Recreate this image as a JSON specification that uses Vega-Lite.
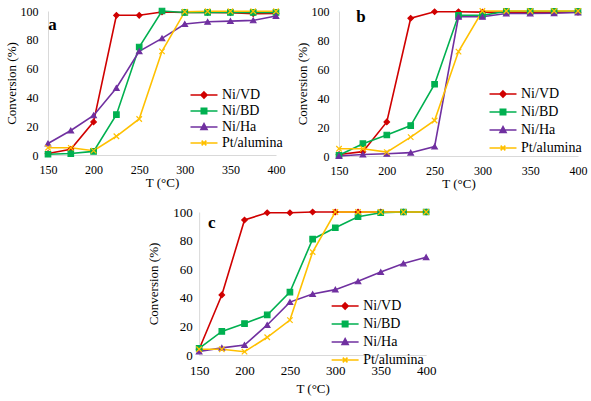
{
  "$schema": "https://vega.github.io/schema/vega-lite/v6.json",
  "padding": {"left": 5, "top": 5, "right": 2, "bottom": 1},
  "background": "white",
  "config": {
    "view": {"stroke": null},
    "font": "Liberation Serif",
    "axis": {"labelFont": "Liberation Serif", "titleFont": "Liberation Serif", "titleFontWeight": "normal", "labelColor": "#000", "titleColor": "#000"},
    "style": {
      "guide-label": {"font": "Liberation Serif", "fill": "#000"},
      "guide-title": {"font": "Liberation Serif", "fontWeight": "normal", "fill": "#000"}
    }
  },
  "datasets": {
    "conv": [
      {"panel": "a", "T": 150, "series": "Ni/VD", "value": 1},
      {"panel": "a", "T": 175, "series": "Ni/VD", "value": 4},
      {"panel": "a", "T": 200, "series": "Ni/VD", "value": 23},
      {"panel": "a", "T": 225, "series": "Ni/VD", "value": 97},
      {"panel": "a", "T": 250, "series": "Ni/VD", "value": 97},
      {"panel": "a", "T": 275, "series": "Ni/VD", "value": 99.3},
      {"panel": "a", "T": 300, "series": "Ni/VD", "value": 99},
      {"panel": "a", "T": 325, "series": "Ni/VD", "value": 99},
      {"panel": "a", "T": 350, "series": "Ni/VD", "value": 98.8},
      {"panel": "a", "T": 375, "series": "Ni/VD", "value": 98.2},
      {"panel": "a", "T": 400, "series": "Ni/VD", "value": 98.3},
      {"panel": "a", "T": 150, "series": "Ni/BD", "value": 0.5},
      {"panel": "a", "T": 175, "series": "Ni/BD", "value": 1},
      {"panel": "a", "T": 200, "series": "Ni/BD", "value": 2.5},
      {"panel": "a", "T": 225, "series": "Ni/BD", "value": 28},
      {"panel": "a", "T": 250, "series": "Ni/BD", "value": 75},
      {"panel": "a", "T": 275, "series": "Ni/BD", "value": 100},
      {"panel": "a", "T": 300, "series": "Ni/BD", "value": 99},
      {"panel": "a", "T": 325, "series": "Ni/BD", "value": 99},
      {"panel": "a", "T": 350, "series": "Ni/BD", "value": 99},
      {"panel": "a", "T": 375, "series": "Ni/BD", "value": 99},
      {"panel": "a", "T": 400, "series": "Ni/BD", "value": 99},
      {"panel": "a", "T": 150, "series": "Ni/Ha", "value": 8},
      {"panel": "a", "T": 175, "series": "Ni/Ha", "value": 17},
      {"panel": "a", "T": 200, "series": "Ni/Ha", "value": 27.5},
      {"panel": "a", "T": 225, "series": "Ni/Ha", "value": 46.5},
      {"panel": "a", "T": 250, "series": "Ni/Ha", "value": 72},
      {"panel": "a", "T": 275, "series": "Ni/Ha", "value": 81},
      {"panel": "a", "T": 300, "series": "Ni/Ha", "value": 91},
      {"panel": "a", "T": 325, "series": "Ni/Ha", "value": 92.5},
      {"panel": "a", "T": 350, "series": "Ni/Ha", "value": 93},
      {"panel": "a", "T": 375, "series": "Ni/Ha", "value": 93.5},
      {"panel": "a", "T": 400, "series": "Ni/Ha", "value": 96.5},
      {"panel": "a", "T": 150, "series": "Pt/alumina", "value": 5},
      {"panel": "a", "T": 175, "series": "Pt/alumina", "value": 5},
      {"panel": "a", "T": 200, "series": "Pt/alumina", "value": 3},
      {"panel": "a", "T": 225, "series": "Pt/alumina", "value": 13},
      {"panel": "a", "T": 250, "series": "Pt/alumina", "value": 25},
      {"panel": "a", "T": 275, "series": "Pt/alumina", "value": 72},
      {"panel": "a", "T": 300, "series": "Pt/alumina", "value": 99.5},
      {"panel": "a", "T": 325, "series": "Pt/alumina", "value": 99.8},
      {"panel": "a", "T": 350, "series": "Pt/alumina", "value": 99.8},
      {"panel": "a", "T": 375, "series": "Pt/alumina", "value": 99.8},
      {"panel": "a", "T": 400, "series": "Pt/alumina", "value": 99.8},

      {"panel": "b", "T": 150, "series": "Ni/VD", "value": 1},
      {"panel": "b", "T": 175, "series": "Ni/VD", "value": 3},
      {"panel": "b", "T": 200, "series": "Ni/VD", "value": 23.5},
      {"panel": "b", "T": 225, "series": "Ni/VD", "value": 95},
      {"panel": "b", "T": 250, "series": "Ni/VD", "value": 99.5},
      {"panel": "b", "T": 275, "series": "Ni/VD", "value": 99.5},
      {"panel": "b", "T": 300, "series": "Ni/VD", "value": 99.2},
      {"panel": "b", "T": 325, "series": "Ni/VD", "value": 99.2},
      {"panel": "b", "T": 350, "series": "Ni/VD", "value": 99.2},
      {"panel": "b", "T": 375, "series": "Ni/VD", "value": 99.2},
      {"panel": "b", "T": 400, "series": "Ni/VD", "value": 99.2},
      {"panel": "b", "T": 150, "series": "Ni/BD", "value": 0.5},
      {"panel": "b", "T": 175, "series": "Ni/BD", "value": 8.5},
      {"panel": "b", "T": 200, "series": "Ni/BD", "value": 14.5},
      {"panel": "b", "T": 225, "series": "Ni/BD", "value": 21},
      {"panel": "b", "T": 250, "series": "Ni/BD", "value": 49.5},
      {"panel": "b", "T": 275, "series": "Ni/BD", "value": 97},
      {"panel": "b", "T": 300, "series": "Ni/BD", "value": 97},
      {"panel": "b", "T": 325, "series": "Ni/BD", "value": 99.8},
      {"panel": "b", "T": 350, "series": "Ni/BD", "value": 99.8},
      {"panel": "b", "T": 375, "series": "Ni/BD", "value": 99.8},
      {"panel": "b", "T": 400, "series": "Ni/BD", "value": 99.8},
      {"panel": "b", "T": 150, "series": "Ni/Ha", "value": 0},
      {"panel": "b", "T": 175, "series": "Ni/Ha", "value": 1},
      {"panel": "b", "T": 200, "series": "Ni/Ha", "value": 1.5},
      {"panel": "b", "T": 225, "series": "Ni/Ha", "value": 2.3},
      {"panel": "b", "T": 250, "series": "Ni/Ha", "value": 6.5},
      {"panel": "b", "T": 275, "series": "Ni/Ha", "value": 96},
      {"panel": "b", "T": 300, "series": "Ni/Ha", "value": 96},
      {"panel": "b", "T": 325, "series": "Ni/Ha", "value": 98.3},
      {"panel": "b", "T": 350, "series": "Ni/Ha", "value": 98.3},
      {"panel": "b", "T": 375, "series": "Ni/Ha", "value": 98.5},
      {"panel": "b", "T": 400, "series": "Ni/Ha", "value": 99},
      {"panel": "b", "T": 150, "series": "Pt/alumina", "value": 5},
      {"panel": "b", "T": 175, "series": "Pt/alumina", "value": 5},
      {"panel": "b", "T": 200, "series": "Pt/alumina", "value": 2.7},
      {"panel": "b", "T": 225, "series": "Pt/alumina", "value": 13},
      {"panel": "b", "T": 250, "series": "Pt/alumina", "value": 24.5},
      {"panel": "b", "T": 275, "series": "Pt/alumina", "value": 72},
      {"panel": "b", "T": 300, "series": "Pt/alumina", "value": 100},
      {"panel": "b", "T": 325, "series": "Pt/alumina", "value": 100},
      {"panel": "b", "T": 350, "series": "Pt/alumina", "value": 100},
      {"panel": "b", "T": 375, "series": "Pt/alumina", "value": 100},
      {"panel": "b", "T": 400, "series": "Pt/alumina", "value": 100},

      {"panel": "c", "T": 150, "series": "Ni/VD", "value": 4},
      {"panel": "c", "T": 175, "series": "Ni/VD", "value": 42},
      {"panel": "c", "T": 200, "series": "Ni/VD", "value": 94.4},
      {"panel": "c", "T": 225, "series": "Ni/VD", "value": 99.5},
      {"panel": "c", "T": 250, "series": "Ni/VD", "value": 99.5},
      {"panel": "c", "T": 275, "series": "Ni/VD", "value": 100},
      {"panel": "c", "T": 300, "series": "Ni/VD", "value": 100},
      {"panel": "c", "T": 325, "series": "Ni/VD", "value": 100},
      {"panel": "c", "T": 350, "series": "Ni/VD", "value": 100},
      {"panel": "c", "T": 375, "series": "Ni/VD", "value": 100},
      {"panel": "c", "T": 400, "series": "Ni/VD", "value": 100},
      {"panel": "c", "T": 150, "series": "Ni/BD", "value": 4.7},
      {"panel": "c", "T": 175, "series": "Ni/BD", "value": 16.5},
      {"panel": "c", "T": 200, "series": "Ni/BD", "value": 22},
      {"panel": "c", "T": 225, "series": "Ni/BD", "value": 28},
      {"panel": "c", "T": 250, "series": "Ni/BD", "value": 44},
      {"panel": "c", "T": 275, "series": "Ni/BD", "value": 81},
      {"panel": "c", "T": 300, "series": "Ni/BD", "value": 89},
      {"panel": "c", "T": 325, "series": "Ni/BD", "value": 96.7},
      {"panel": "c", "T": 350, "series": "Ni/BD", "value": 99.5},
      {"panel": "c", "T": 375, "series": "Ni/BD", "value": 100},
      {"panel": "c", "T": 400, "series": "Ni/BD", "value": 100},
      {"panel": "c", "T": 150, "series": "Ni/Ha", "value": 2.5},
      {"panel": "c", "T": 175, "series": "Ni/Ha", "value": 5},
      {"panel": "c", "T": 200, "series": "Ni/Ha", "value": 7},
      {"panel": "c", "T": 225, "series": "Ni/Ha", "value": 21},
      {"panel": "c", "T": 250, "series": "Ni/Ha", "value": 37},
      {"panel": "c", "T": 275, "series": "Ni/Ha", "value": 42.6},
      {"panel": "c", "T": 300, "series": "Ni/Ha", "value": 45.7},
      {"panel": "c", "T": 325, "series": "Ni/Ha", "value": 51.5},
      {"panel": "c", "T": 350, "series": "Ni/Ha", "value": 58},
      {"panel": "c", "T": 375, "series": "Ni/Ha", "value": 64},
      {"panel": "c", "T": 400, "series": "Ni/Ha", "value": 68.4},
      {"panel": "c", "T": 150, "series": "Pt/alumina", "value": 4},
      {"panel": "c", "T": 175, "series": "Pt/alumina", "value": 4},
      {"panel": "c", "T": 200, "series": "Pt/alumina", "value": 2.3},
      {"panel": "c", "T": 225, "series": "Pt/alumina", "value": 12.4},
      {"panel": "c", "T": 250, "series": "Pt/alumina", "value": 24.4},
      {"panel": "c", "T": 275, "series": "Pt/alumina", "value": 72},
      {"panel": "c", "T": 300, "series": "Pt/alumina", "value": 100},
      {"panel": "c", "T": 325, "series": "Pt/alumina", "value": 100},
      {"panel": "c", "T": 350, "series": "Pt/alumina", "value": 100},
      {"panel": "c", "T": 375, "series": "Pt/alumina", "value": 100},
      {"panel": "c", "T": 400, "series": "Pt/alumina", "value": 100}
    ],
    "labels": [
      {"panel": "a", "T": 155, "value": 90, "label": "a"},
      {"panel": "b", "T": 173, "value": 96, "label": "b"},
      {"panel": "c", "T": 164, "value": 92, "label": "c"}
    ]
  },
  "resolve": {"scale": {"color": "independent", "shape": "independent", "stroke": "independent"}, "legend": {"color": "independent", "shape": "independent", "stroke": "independent"}},
  "spacing": 16,
  "center": true,
  "vconcat": [
    {
      "spacing": 11,
      "hconcat": [
        {
          "width": 228, "height": 144,
          "data": {"name": "conv"},
          "transform": [{"filter": "datum.panel === 'a'"}],
          "resolve": {"scale": {"color": "independent", "shape": "independent", "stroke": "independent"}, "legend": {"color": "independent", "shape": "independent", "stroke": "independent"}},
          "encoding": {
            "x": {"field": "T", "type": "quantitative", "scale": {"domain": [150, 400], "nice": false}, "axis": {"title": "T (°C)", "values": [150, 200, 250, 300, 350, 400], "labelFont": "Liberation Serif", "labelFontSize": 12, "titleFont": "Liberation Serif", "titleFontSize": 13, "titleFontWeight": "normal", "labelColor": "#000", "titleColor": "#000", "grid": false, "ticks": false, "domainColor": "#d9d9d9", "labelPadding": 9, "titlePadding": 1, "labelOverlap": false, "labelFlush": false}},
            "y": {"field": "value", "type": "quantitative", "scale": {"domain": [0, 100], "nice": false}, "axis": {"title": "Conversion (%)", "values": [0, 20, 40, 60, 80, 100], "labelFont": "Liberation Serif", "labelFontSize": 12, "titleFont": "Liberation Serif", "titleFontSize": 13, "titleFontWeight": "normal", "labelColor": "#000", "titleColor": "#000", "grid": false, "ticks": false, "domainColor": "#d9d9d9", "labelPadding": 10, "titlePadding": 2, "labelOverlap": false, "labelFlush": false}}
          },
          "layer": [
            {
              "mark": {"type": "line", "strokeWidth": 1.6},
              "encoding": {
                "color": {"field": "series", "type": "nominal", "legend": null, "scale": {"domain": ["Ni/VD", "Ni/BD", "Ni/Ha", "Pt/alumina"], "range": ["#d00000", "#00b050", "#7030a0", "#ffc000"]}}
              }
            },
            {
              "mark": {"type": "point", "filled": true, "size": 30, "opacity": 1, "strokeWidth": 1.2},
              "encoding": {
                "color": {"field": "series", "type": "nominal", "legend": null, "scale": {"domain": ["Ni/VD", "Ni/BD", "Ni/Ha", "Pt/alumina"], "range": ["#d00000", "#00b050", "#7030a0", "#ffc000"]}},
                "shape": {"field": "series", "type": "nominal", "legend": null, "scale": {"domain": ["Ni/VD", "Ni/BD", "Ni/Ha", "Pt/alumina"], "range": ["diamond", "square", "triangle-up", "M-1,-1L1,1M-1,1L1,-1"]}},
                "stroke": {"field": "series", "type": "nominal", "legend": null, "scale": {"domain": ["Ni/VD", "Ni/BD", "Ni/Ha", "Pt/alumina"], "range": ["#d00000", "#00b050", "#7030a0", "#ffc000"]}}
              }
            },
            {
              "transform": [{"filter": "datum.panel === 'none'"}],
              "mark": {"type": "point", "filled": true, "size": 182, "opacity": 1, "strokeWidth": 1.6},
              "encoding": {
                "color": {"field": "series", "type": "nominal", "scale": {"domain": ["Ni/VD", "Ni/BD", "Ni/Ha", "Pt/alumina"], "range": ["#d00000", "#00b050", "#7030a0", "#ffc000"]},
                  "legend": {"orient": "none", "legendX": 141, "legendY": 76, "title": null, "labelFont": "Liberation Serif", "labelFontSize": 14, "labelColor": "#000", "padding": 0, "symbolSize": 182, "symbolStrokeWidth": 1.6, "symbolOffset": 7, "labelOffset": 10, "rowPadding": 1}},
                "shape": {"field": "series", "type": "nominal", "scale": {"domain": ["Ni/VD", "Ni/BD", "Ni/Ha", "Pt/alumina"], "range": ["M-2,0H2M0,-0.45L0.45,0L0,0.45L-0.45,0Z", "M-2,0H2M-0.4,-0.4H0.4V0.4H-0.4Z", "M-2,0H2M0,-0.5L0.45,0.35H-0.45Z", "M-2,0H2M-0.35,-0.35L0.35,0.35M-0.35,0.35L0.35,-0.35"]},
                  "legend": {"orient": "none", "legendX": 141, "legendY": 76, "title": null, "labelFont": "Liberation Serif", "labelFontSize": 14, "labelColor": "#000", "padding": 0, "symbolSize": 182, "symbolStrokeWidth": 1.6, "symbolOffset": 7, "labelOffset": 10, "rowPadding": 1}},
                "stroke": {"field": "series", "type": "nominal", "scale": {"domain": ["Ni/VD", "Ni/BD", "Ni/Ha", "Pt/alumina"], "range": ["#d00000", "#00b050", "#7030a0", "#ffc000"]},
                  "legend": {"orient": "none", "legendX": 141, "legendY": 76, "title": null, "labelFont": "Liberation Serif", "labelFontSize": 14, "labelColor": "#000", "padding": 0, "symbolSize": 182, "symbolStrokeWidth": 1.6, "symbolOffset": 7, "labelOffset": 10, "rowPadding": 1}}
              }
            },
            {
              "data": {"name": "labels"},
              "transform": [{"filter": "datum.panel === 'a'"}],
              "mark": {"type": "text", "font": "Liberation Serif", "fontSize": 17, "fontWeight": "bold", "color": "#000"},
              "encoding": {"text": {"field": "label"}}
            }
          ]
        },
        {
          "width": 239, "height": 145,
          "data": {"name": "conv"},
          "transform": [{"filter": "datum.panel === 'b'"}],
          "resolve": {"scale": {"color": "independent", "shape": "independent", "stroke": "independent"}, "legend": {"color": "independent", "shape": "independent", "stroke": "independent"}},
          "encoding": {
            "x": {"field": "T", "type": "quantitative", "scale": {"domain": [150, 400], "nice": false}, "axis": {"title": "T (°C)", "values": [150, 200, 250, 300, 350, 400], "labelFont": "Liberation Serif", "labelFontSize": 12, "titleFont": "Liberation Serif", "titleFontSize": 13, "titleFontWeight": "normal", "labelColor": "#000", "titleColor": "#000", "grid": false, "ticks": false, "domainColor": "#d9d9d9", "labelPadding": 9, "titlePadding": 1, "labelOverlap": false, "labelFlush": false}},
            "y": {"field": "value", "type": "quantitative", "scale": {"domain": [0, 100], "nice": false}, "axis": {"title": "Conversion (%)", "values": [0, 20, 40, 60, 80, 100], "labelFont": "Liberation Serif", "labelFontSize": 12, "titleFont": "Liberation Serif", "titleFontSize": 13, "titleFontWeight": "normal", "labelColor": "#000", "titleColor": "#000", "grid": false, "ticks": false, "domainColor": "#d9d9d9", "labelPadding": 10, "titlePadding": 2, "labelOverlap": false, "labelFlush": false}}
          },
          "layer": [
            {
              "mark": {"type": "line", "strokeWidth": 1.6},
              "encoding": {
                "color": {"field": "series", "type": "nominal", "legend": null, "scale": {"domain": ["Ni/VD", "Ni/BD", "Ni/Ha", "Pt/alumina"], "range": ["#d00000", "#00b050", "#7030a0", "#ffc000"]}}
              }
            },
            {
              "mark": {"type": "point", "filled": true, "size": 30, "opacity": 1, "strokeWidth": 1.2},
              "encoding": {
                "color": {"field": "series", "type": "nominal", "legend": null, "scale": {"domain": ["Ni/VD", "Ni/BD", "Ni/Ha", "Pt/alumina"], "range": ["#d00000", "#00b050", "#7030a0", "#ffc000"]}},
                "shape": {"field": "series", "type": "nominal", "legend": null, "scale": {"domain": ["Ni/VD", "Ni/BD", "Ni/Ha", "Pt/alumina"], "range": ["diamond", "square", "triangle-up", "M-1,-1L1,1M-1,1L1,-1"]}},
                "stroke": {"field": "series", "type": "nominal", "legend": null, "scale": {"domain": ["Ni/VD", "Ni/BD", "Ni/Ha", "Pt/alumina"], "range": ["#d00000", "#00b050", "#7030a0", "#ffc000"]}}
              }
            },
            {
              "transform": [{"filter": "datum.panel === 'none'"}],
              "mark": {"type": "point", "filled": true, "size": 182, "opacity": 1, "strokeWidth": 1.6},
              "encoding": {
                "color": {"field": "series", "type": "nominal", "scale": {"domain": ["Ni/VD", "Ni/BD", "Ni/Ha", "Pt/alumina"], "range": ["#d00000", "#00b050", "#7030a0", "#ffc000"]},
                  "legend": {"orient": "none", "legendX": 149, "legendY": 75, "title": null, "labelFont": "Liberation Serif", "labelFontSize": 14, "labelColor": "#000", "padding": 0, "symbolSize": 182, "symbolStrokeWidth": 1.6, "symbolOffset": 7, "labelOffset": 10, "rowPadding": 3}},
                "shape": {"field": "series", "type": "nominal", "scale": {"domain": ["Ni/VD", "Ni/BD", "Ni/Ha", "Pt/alumina"], "range": ["M-2,0H2M0,-0.45L0.45,0L0,0.45L-0.45,0Z", "M-2,0H2M-0.4,-0.4H0.4V0.4H-0.4Z", "M-2,0H2M0,-0.5L0.45,0.35H-0.45Z", "M-2,0H2M-0.35,-0.35L0.35,0.35M-0.35,0.35L0.35,-0.35"]},
                  "legend": {"orient": "none", "legendX": 149, "legendY": 75, "title": null, "labelFont": "Liberation Serif", "labelFontSize": 14, "labelColor": "#000", "padding": 0, "symbolSize": 182, "symbolStrokeWidth": 1.6, "symbolOffset": 7, "labelOffset": 10, "rowPadding": 3}},
                "stroke": {"field": "series", "type": "nominal", "scale": {"domain": ["Ni/VD", "Ni/BD", "Ni/Ha", "Pt/alumina"], "range": ["#d00000", "#00b050", "#7030a0", "#ffc000"]},
                  "legend": {"orient": "none", "legendX": 149, "legendY": 75, "title": null, "labelFont": "Liberation Serif", "labelFontSize": 14, "labelColor": "#000", "padding": 0, "symbolSize": 182, "symbolStrokeWidth": 1.6, "symbolOffset": 7, "labelOffset": 10, "rowPadding": 3}}
              }
            },
            {
              "data": {"name": "labels"},
              "transform": [{"filter": "datum.panel === 'b'"}],
              "mark": {"type": "text", "font": "Liberation Serif", "fontSize": 17, "fontWeight": "bold", "color": "#000"},
              "encoding": {"text": {"field": "label"}}
            }
          ]
        }
      ]
    },
    {
      "width": 227, "height": 143,
      "data": {"name": "conv"},
      "transform": [{"filter": "datum.panel === 'c'"}],
      "resolve": {"scale": {"color": "independent", "shape": "independent", "stroke": "independent"}, "legend": {"color": "independent", "shape": "independent", "stroke": "independent"}},
      "encoding": {
        "x": {"field": "T", "type": "quantitative", "scale": {"domain": [150, 400], "nice": false}, "axis": {"title": "T (°C)", "values": [150, 200, 250, 300, 350, 400], "labelFont": "Liberation Serif", "labelFontSize": 13, "titleFont": "Liberation Serif", "titleFontSize": 13, "titleFontWeight": "normal", "labelColor": "#000", "titleColor": "#000", "grid": false, "ticks": false, "domainColor": "#d9d9d9", "labelPadding": 9, "titlePadding": 5, "labelOverlap": false, "labelFlush": false}},
        "y": {"field": "value", "type": "quantitative", "scale": {"domain": [0, 100], "nice": false}, "axis": {"title": "Conversion (%)", "values": [0, 20, 40, 60, 80, 100], "labelFont": "Liberation Serif", "labelFontSize": 13, "titleFont": "Liberation Serif", "titleFontSize": 13, "titleFontWeight": "normal", "labelColor": "#000", "titleColor": "#000", "grid": false, "ticks": false, "domainColor": "#d9d9d9", "labelPadding": 7, "titlePadding": 12, "labelOverlap": false, "labelFlush": false}}
      },
      "layer": [
        {
          "mark": {"type": "line", "strokeWidth": 1.6},
          "encoding": {
            "color": {"field": "series", "type": "nominal", "legend": null, "scale": {"domain": ["Ni/VD", "Ni/BD", "Ni/Ha", "Pt/alumina"], "range": ["#d00000", "#00b050", "#7030a0", "#ffc000"]}}
          }
        },
        {
          "mark": {"type": "point", "filled": true, "size": 30, "opacity": 1, "strokeWidth": 1.2},
          "encoding": {
            "color": {"field": "series", "type": "nominal", "legend": null, "scale": {"domain": ["Ni/VD", "Ni/BD", "Ni/Ha", "Pt/alumina"], "range": ["#d00000", "#00b050", "#7030a0", "#ffc000"]}},
            "shape": {"field": "series", "type": "nominal", "legend": null, "scale": {"domain": ["Ni/VD", "Ni/BD", "Ni/Ha", "Pt/alumina"], "range": ["diamond", "square", "triangle-up", "M-1,-1L1,1M-1,1L1,-1"]}},
            "stroke": {"field": "series", "type": "nominal", "legend": null, "scale": {"domain": ["Ni/VD", "Ni/BD", "Ni/Ha", "Pt/alumina"], "range": ["#d00000", "#00b050", "#7030a0", "#ffc000"]}}
          }
        },
        {
          "transform": [{"filter": "datum.panel === 'none'"}],
          "mark": {"type": "point", "filled": true, "size": 182, "opacity": 1, "strokeWidth": 1.6},
          "encoding": {
            "color": {"field": "series", "type": "nominal", "scale": {"domain": ["Ni/VD", "Ni/BD", "Ni/Ha", "Pt/alumina"], "range": ["#d00000", "#00b050", "#7030a0", "#ffc000"]},
              "legend": {"orient": "none", "legendX": 131, "legendY": 86, "title": null, "labelFont": "Liberation Serif", "labelFontSize": 14, "labelColor": "#000", "padding": 0, "symbolSize": 182, "symbolStrokeWidth": 1.6, "symbolOffset": 7, "labelOffset": 10, "rowPadding": 3}},
            "shape": {"field": "series", "type": "nominal", "scale": {"domain": ["Ni/VD", "Ni/BD", "Ni/Ha", "Pt/alumina"], "range": ["M-2,0H2M0,-0.45L0.45,0L0,0.45L-0.45,0Z", "M-2,0H2M-0.4,-0.4H0.4V0.4H-0.4Z", "M-2,0H2M0,-0.5L0.45,0.35H-0.45Z", "M-2,0H2M-0.35,-0.35L0.35,0.35M-0.35,0.35L0.35,-0.35"]},
              "legend": {"orient": "none", "legendX": 131, "legendY": 86, "title": null, "labelFont": "Liberation Serif", "labelFontSize": 14, "labelColor": "#000", "padding": 0, "symbolSize": 182, "symbolStrokeWidth": 1.6, "symbolOffset": 7, "labelOffset": 10, "rowPadding": 3}},
            "stroke": {"field": "series", "type": "nominal", "scale": {"domain": ["Ni/VD", "Ni/BD", "Ni/Ha", "Pt/alumina"], "range": ["#d00000", "#00b050", "#7030a0", "#ffc000"]},
              "legend": {"orient": "none", "legendX": 131, "legendY": 86, "title": null, "labelFont": "Liberation Serif", "labelFontSize": 14, "labelColor": "#000", "padding": 0, "symbolSize": 182, "symbolStrokeWidth": 1.6, "symbolOffset": 7, "labelOffset": 10, "rowPadding": 3}}
          }
        },
        {
          "data": {"name": "labels"},
          "transform": [{"filter": "datum.panel === 'c'"}],
          "mark": {"type": "text", "font": "Liberation Serif", "fontSize": 17, "fontWeight": "bold", "color": "#000"},
          "encoding": {"text": {"field": "label"}}
        }
      ]
    }
  ]
}
